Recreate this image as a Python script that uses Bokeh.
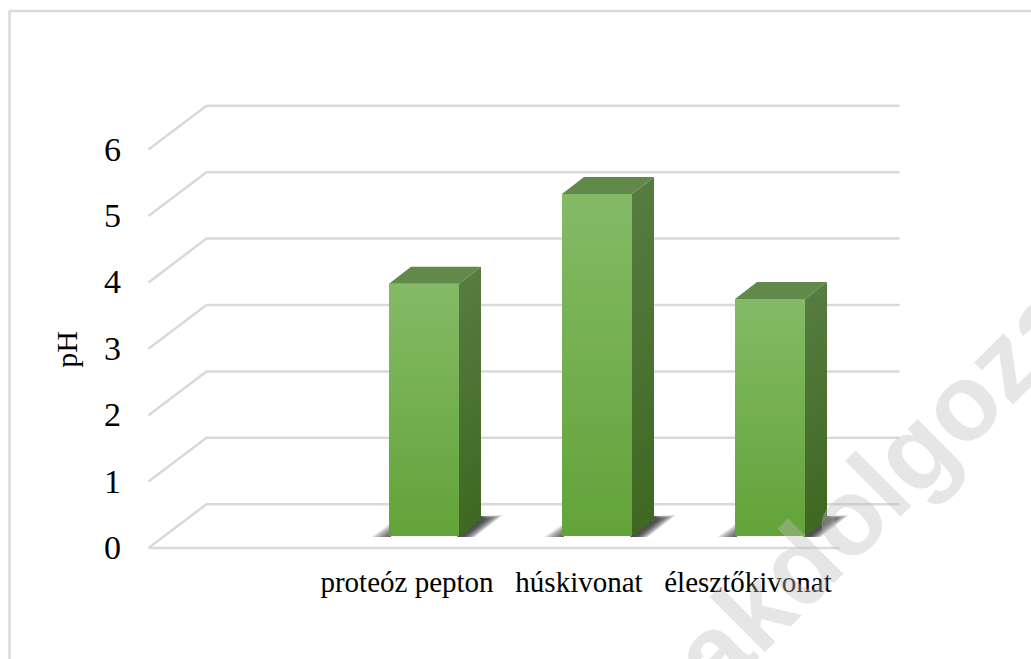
from bokeh.core.properties import value
from bokeh.embed import file_html
from bokeh.models import Range1d
from bokeh.plotting import figure
from bokeh.resources import INLINE

# Chart data
categories = ["proteóz pepton", "húskivonat", "élesztőkivonat"]
ph_values = [3.8, 5.15, 3.57]
y_ticks = [0, 1, 2, 3, 4, 5, 6]
y_title = "pH"
stamp_text = "akdolgoza"

# Pixel layout of the canvas and the 3D projection
WIDTH, HEIGHT = 1031, 659
PX_PER_PH = 66.4
PX_PER_CAT = 173.0
ZERO_PX = 547.5          # screen row of pH 0 on the front floor edge
CAT0_PX = 423.5          # screen column of the first bar's centre
GRID = "#d9d9d9"
SERIF = value("Liberation Serif")


def cx(px):
    """Horizontal screen pixel to category units."""
    return (px - CAT0_PX) / PX_PER_CAT


def cy(px):
    """Vertical screen pixel to pH units."""
    return (ZERO_PX - px) / PX_PER_PH


BAR_WIDTH = 70 / PX_PER_CAT
DEPTH_X, DEPTH_Y = 22 / PX_PER_CAT, 17 / PX_PER_PH
BASE_Y = 12 / PX_PER_PH  # bars stand a little behind the front floor edge
WALL_X, WALL_Y = 58 / PX_PER_CAT, 43.8 / PX_PER_PH


def mix(c0, c1, t):
    return "#" + "".join(f"{round(a + (b - a) * t):02x}" for a, b in zip(c0, c1))


p = figure(
    width=WIDTH, height=HEIGHT,
    x_range=Range1d(cx(0), cx(WIDTH)), y_range=Range1d(cy(HEIGHT), cy(0)),
    output_backend="svg", toolbar_location=None, tools="",
    x_axis_location=None, y_axis_location=None,
    min_border_left=0, min_border_right=0, min_border_top=0, min_border_bottom=0,
    background_fill_color="white", border_fill_color="white",
)
p.outline_line_color = None
p.grid.visible = False

# Frame of the chart area, open towards the page edges
p.line([cx(9), cx(9), cx(WIDTH + 5)], [cy(HEIGHT + 5), cy(10.5), cy(10.5)],
       line_color=GRID, line_width=2.5)

# Wall grid: a slanted stretch on the side wall, then the level line on the back wall
for t in y_ticks:
    p.line([cx(148), cx(148) + WALL_X, cx(899)], [t, t + WALL_Y, t + WALL_Y],
           line_color=GRID, line_width=2.5)
p.line([cx(148), cx(839)], [0, 0], line_color=GRID, line_width=2.5)

FRONT_TOP, FRONT_BOTTOM = (132, 186, 102), (98, 163, 56)
SIDE_TOP, SIDE_BOTTOM = (86, 124, 64), (62, 104, 34)
TOP_FACE = "#60894a"
SLICES = 40
SHADOW_LAYERS = 14

for i, v in enumerate(ph_values):
    left, right = i - BAR_WIDTH / 2, i + BAR_WIDTH / 2
    base, top = BASE_Y, BASE_Y + v

    # Soft cast shadow on the floor, built from nested translucent layers
    for k in range(SHADOW_LAYERS):
        g = 1 - k / (SHADOW_LAYERS - 1)
        sx = [right - 2 / PX_PER_CAT, right + 22 / PX_PER_CAT,
              right + (26 + 18 * g) / PX_PER_CAT, right + (4 + 12 * g) / PX_PER_CAT]
        sy = [base - 1 / PX_PER_PH, base + 20 / PX_PER_PH,
              base + (16 + 5 * g) / PX_PER_PH, base - 1 / PX_PER_PH]
        p.patch(sx, sy, fill_color="#1a1a1a", fill_alpha=0.09, line_color=None)
        p.patch([left - 18 / PX_PER_CAT * g, left + 2 / PX_PER_CAT, left + 2 / PX_PER_CAT],
                [base - 1 / PX_PER_PH, base - 1 / PX_PER_PH, base + (2 + 11 * g) / PX_PER_PH],
                fill_color="#1a1a1a", fill_alpha=0.075, line_color=None)

    # Front and side faces: each band runs down to the base so no seams open up
    for s in range(SLICES):
        t0 = s / SLICES
        y0 = top - (top - base) * t0
        p.patch([right, right + DEPTH_X, right + DEPTH_X, right],
                [y0, y0 + DEPTH_Y, base + DEPTH_Y, base],
                fill_color=mix(SIDE_TOP, SIDE_BOTTOM, t0), line_color=None)
        p.quad(left=left, right=right, top=y0, bottom=base,
               fill_color=mix(FRONT_TOP, FRONT_BOTTOM, t0), line_color=None)

    # Top face
    p.patch([left, right, right + DEPTH_X, left + DEPTH_X],
            [top, top, top + DEPTH_Y, top + DEPTH_Y],
            fill_color=TOP_FACE, line_color=None)

# Value labels on the front edge of the side wall
p.text(x=[cx(120.5)] * len(y_ticks), y=y_ticks, text=[str(t) for t in y_ticks],
       text_font=SERIF, text_font_size="34px", text_color="#000000",
       text_align="right", text_baseline="middle")
p.text(x=[cx(66)], y=[cy(349)], text=[y_title], angle=1.5708,
       text_font=SERIF, text_font_size="30px", text_color="#000000",
       text_align="center", text_baseline="middle")

# Category labels sit slightly left of the bars they name
LABEL_SHIFT = [-17, -18, -22]
p.text(x=[i + d / PX_PER_CAT for i, d in enumerate(LABEL_SHIFT)], y=[cy(581.5)] * len(categories),
       text=categories, text_font=SERIF, text_font_size="29px", text_color="#000000",
       text_align="center", text_baseline="middle")

# Diagonal stamp across the lower right corner
p.text(x=[cx(690)], y=[cy(673)], text=[stamp_text], angle=0.785,
       text_font=value("Liberation Sans"), text_font_style="bold",
       text_font_size="108px", text_color="#bdbdbd", text_alpha=0.38,
       text_baseline="alphabetic", text_align="left")

open("out.html", "w").write(file_html(p, INLINE))
